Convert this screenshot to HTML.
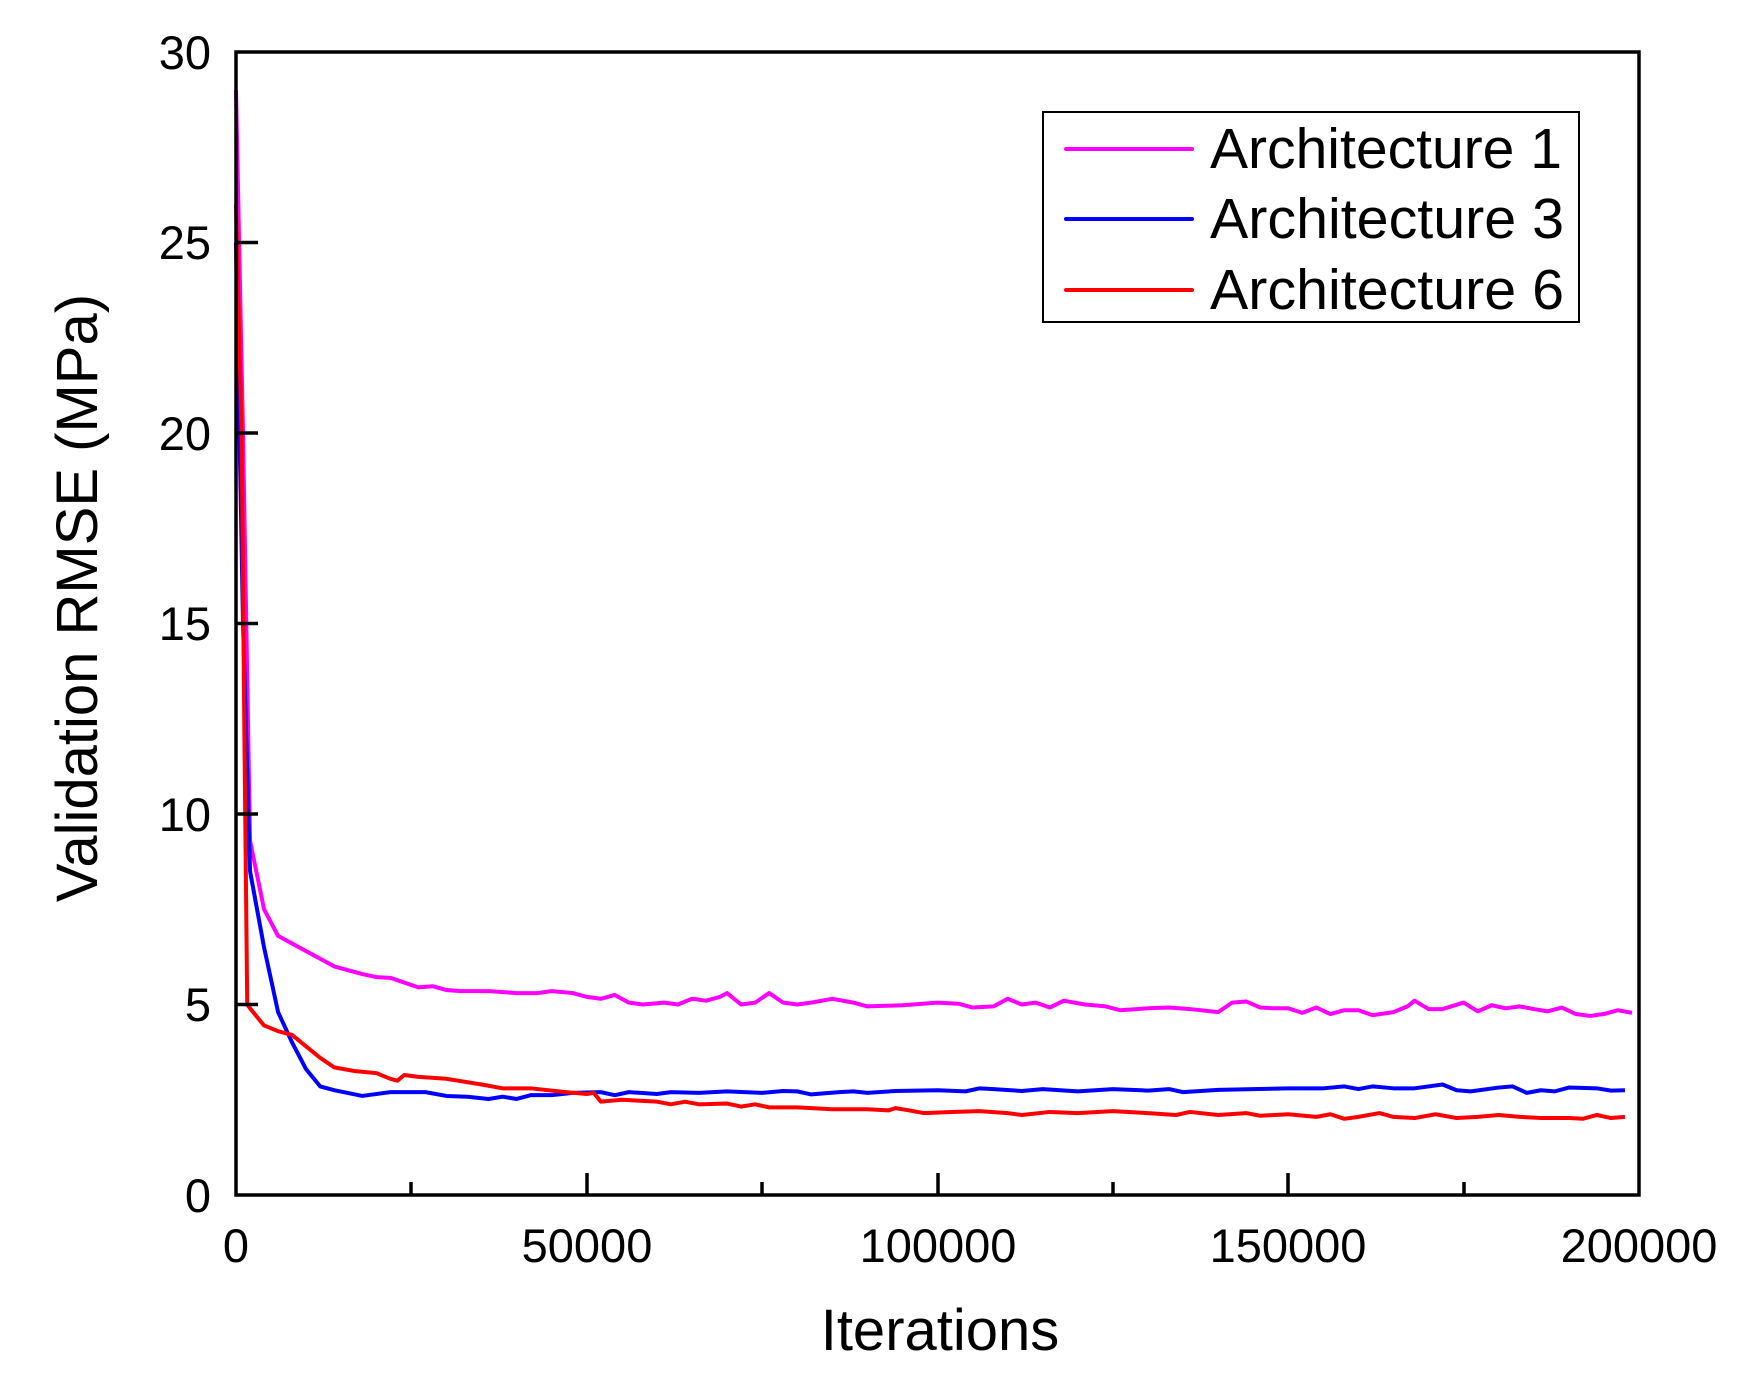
<!DOCTYPE html>
<html><head><meta charset="utf-8"><style>html,body{margin:0;padding:0;background:#fff}</style></head>
<body>
<svg width="1761" height="1393" viewBox="0 0 1761 1393" xmlns="http://www.w3.org/2000/svg" font-family="Liberation Sans, Arial, sans-serif">
<rect width="1761" height="1393" fill="#fff"/>
<g transform="translate(236,1195) scale(0.0070150,-38.1)" fill="none" stroke-width="4" stroke-linejoin="round">
<polyline vector-effect="non-scaling-stroke" stroke="#ff00ff" points="0,29 1000,20 2000,9.3 4000,7.5 6000,6.8 9000,6.5 12000,6.2 14000,6.0 18000,5.8 20000,5.72 22000,5.7 26000,5.45 28000,5.48 30000,5.38 32000,5.35 36000,5.35 40000,5.3 43000,5.3 45000,5.35 48000,5.3 50000,5.2 52000,5.15 54000,5.25 56000,5.05 58000,5.0 61000,5.05 63000,5.0 65000,5.15 67000,5.1 69000,5.2 70000,5.3 72000,5.0 74000,5.05 76000,5.3 78000,5.05 80000,5.0 82000,5.05 85000,5.15 88000,5.05 90000,4.95 95000,4.98 100000,5.05 103000,5.02 105000,4.92 108000,4.95 110000,5.15 112000,5.0 114000,5.05 116000,4.92 118000,5.1 121000,5.0 124000,4.95 126000,4.85 130000,4.9 133000,4.92 136000,4.88 140000,4.8 142000,5.05 144000,5.08 146000,4.92 148000,4.9 150000,4.9 152000,4.78 154000,4.92 156000,4.75 158000,4.85 160000,4.85 162000,4.72 165000,4.8 167000,4.95 168000,5.1 170000,4.88 172000,4.88 175000,5.05 177000,4.82 179000,4.98 181000,4.9 183000,4.95 185000,4.88 187000,4.82 189000,4.92 191000,4.75 193000,4.7 195000,4.75 197000,4.85 199000,4.78"/>
<polyline vector-effect="non-scaling-stroke" stroke="#0000ff" points="0,25 1000,15 2000,8.5 4000,6.5 6000,4.8 8000,4.0 10000,3.3 12000,2.85 14000,2.75 18000,2.6 22000,2.7 27000,2.7 30000,2.6 33000,2.58 36000,2.52 38000,2.58 40000,2.52 42000,2.62 45000,2.62 48000,2.68 52000,2.7 54000,2.62 56000,2.7 60000,2.65 62000,2.7 66000,2.68 70000,2.72 75000,2.68 78000,2.73 80000,2.72 82000,2.64 86000,2.7 88000,2.72 90000,2.68 94000,2.73 100000,2.75 104000,2.72 106000,2.8 108000,2.78 112000,2.73 115000,2.78 120000,2.72 125000,2.78 130000,2.74 133000,2.78 135000,2.7 140000,2.76 145000,2.78 150000,2.8 155000,2.8 158000,2.85 160000,2.78 162000,2.85 165000,2.8 168000,2.8 172000,2.9 174000,2.75 176000,2.72 180000,2.82 182000,2.85 184000,2.68 186000,2.75 188000,2.72 190000,2.82 194000,2.8 196000,2.74 198000,2.75"/>
<polyline vector-effect="non-scaling-stroke" stroke="#ff0000" points="0,26 800,20 1200,12 1600,5 2000,4.9 4000,4.45 6000,4.3 8000,4.2 10000,3.9 12000,3.6 14000,3.35 17000,3.25 20000,3.2 22000,3.05 23000,3.0 24000,3.15 26000,3.1 30000,3.05 35000,2.9 38000,2.8 42000,2.8 47000,2.7 50000,2.65 51000,2.68 52000,2.45 55000,2.5 60000,2.45 62000,2.38 64000,2.45 66000,2.38 70000,2.4 72000,2.32 74000,2.38 76000,2.3 80000,2.3 85000,2.25 90000,2.25 93000,2.22 94000,2.28 96000,2.22 98000,2.15 102000,2.18 106000,2.2 110000,2.15 112000,2.1 116000,2.18 120000,2.15 125000,2.2 130000,2.15 134000,2.1 136000,2.18 140000,2.1 144000,2.15 146000,2.08 150000,2.12 154000,2.05 156000,2.12 158000,2.0 160000,2.05 163000,2.15 165000,2.05 168000,2.02 171000,2.12 174000,2.02 177000,2.05 180000,2.1 183000,2.05 186000,2.02 190000,2.02 192000,2.0 194000,2.1 196000,2.02 198000,2.05"/>
</g>
<g stroke="#000" stroke-width="3.5" fill="none">
<rect x="236" y="52" width="1403" height="1143"/>
<path d="M236 1004.5h22M236 814h22M236 623.5h22M236 433h22M236 242.5h22M587 1195v-22M938 1195v-22M1288 1195v-22M411 1195v-13M762 1195v-13M1113 1195v-13M1464 1195v-13"/>
</g>
<g font-size="47" text-anchor="end" fill="#000">
<text x="211" y="1212">0</text><text x="211" y="1021">5</text><text x="211" y="831">10</text><text x="211" y="640">15</text><text x="211" y="450">20</text><text x="211" y="259">25</text><text x="211" y="69">30</text>
</g>
<g font-size="47" text-anchor="middle" fill="#000">
<text x="236" y="1262">0</text><text x="587" y="1262">50000</text><text x="938" y="1262">100000</text><text x="1288" y="1262">150000</text><text x="1639" y="1262">200000</text>
</g>
<text x="940" y="1350" font-size="58" text-anchor="middle">Iterations</text>
<text transform="translate(97,598) rotate(-90)" font-size="58" text-anchor="middle">Validation RMSE (MPa)</text>
<g transform="translate(-6,0)">
<rect x="1049" y="112" width="536" height="210" fill="#fff" stroke="#000" stroke-width="2"/>
<g stroke-width="4" stroke-linecap="round">
<line x1="1072" y1="149" x2="1198" y2="149" stroke="#ff00ff"/>
<line x1="1072" y1="219" x2="1198" y2="219" stroke="#0000ff"/>
<line x1="1072" y1="290" x2="1198" y2="290" stroke="#ff0000"/>
</g>
<g font-size="57" fill="#000">
<text x="1216" y="168" textLength="352" lengthAdjust="spacingAndGlyphs">Architecture 1</text>
<text x="1216" y="238" textLength="354" lengthAdjust="spacingAndGlyphs">Architecture 3</text>
<text x="1216" y="309" textLength="354" lengthAdjust="spacingAndGlyphs">Architecture 6</text>
</g>
</g>
</svg>
</body></html>
